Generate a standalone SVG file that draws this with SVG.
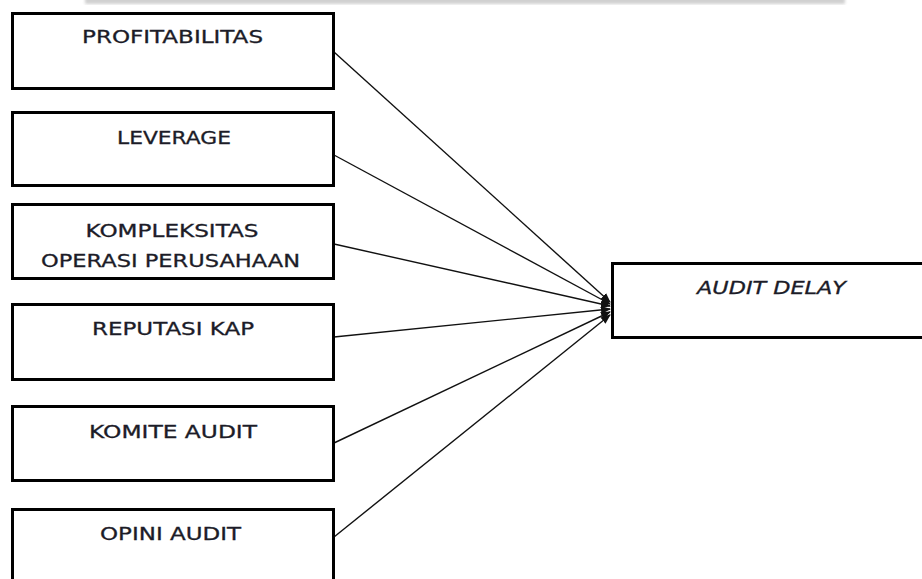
<svg xmlns="http://www.w3.org/2000/svg" width="922" height="579" viewBox="0 0 922 579">
<style>
.box{fill:#fff;stroke:#000;stroke-width:3}
.lbl{font-family:"DejaVu Sans","Liberation Sans",sans-serif;font-size:17px;fill:#1c1c28;stroke:#1c1c28;stroke-width:0.3;text-anchor:middle}
.it{font-style:italic}
.conn{stroke:#111;stroke-width:1.4;fill:none;marker-end:url(#ah)}
</style>
<defs>
<marker id="ah" markerUnits="userSpaceOnUse" markerWidth="10" markerHeight="8" refX="9" refY="4" orient="auto">
<path d="M0,0 L10,4 L0,8 Z" fill="#111"/>
</marker>
<filter id="bl"><feGaussianBlur stdDeviation="1.5"/></filter>
</defs>
<rect x="85" y="-3" width="760" height="7" fill="#d0d0d0" filter="url(#bl)"/>
<g id="connectors">
<line class="conn" x1="334" y1="52" x2="610" y2="302"/>
<line class="conn" x1="334" y1="155" x2="610" y2="304"/>
<line class="conn" x1="334" y1="244" x2="610" y2="306"/>
<line class="conn" x1="334" y1="337" x2="610" y2="309"/>
<line class="conn" x1="334" y1="443" x2="610" y2="312"/>
<line class="conn" x1="334" y1="537" x2="610" y2="315"/>
</g>
<g id="profitabilitas">
<rect class="box" x="12.5" y="13.5" width="321" height="75"/>
<text class="lbl" x="172.5" y="43" textLength="181" lengthAdjust="spacingAndGlyphs">PROFITABILITAS</text>
</g>
<g id="leverage">
<rect class="box" x="12.5" y="112.5" width="321" height="73"/>
<text class="lbl" x="174" y="144" textLength="114" lengthAdjust="spacingAndGlyphs">LEVERAGE</text>
</g>
<g id="kompleksitas">
<rect class="box" x="12.5" y="204.5" width="321" height="74"/>
<text class="lbl" x="172" y="237" textLength="173" lengthAdjust="spacingAndGlyphs">KOMPLEKSITAS</text>
<text class="lbl" x="170.5" y="267" textLength="259" lengthAdjust="spacingAndGlyphs">OPERASI PERUSAHAAN</text>
</g>
<g id="reputasi">
<rect class="box" x="12.5" y="304.5" width="321" height="75"/>
<text class="lbl" x="173" y="335" textLength="162" lengthAdjust="spacingAndGlyphs">REPUTASI KAP</text>
</g>
<g id="komite">
<rect class="box" x="12.5" y="406.5" width="321" height="74"/>
<text class="lbl" x="173" y="438" textLength="168" lengthAdjust="spacingAndGlyphs">KOMITE AUDIT</text>
</g>
<g id="opini">
<rect class="box" x="12.5" y="509.5" width="321" height="80"/>
<text class="lbl" x="170.5" y="540" textLength="141" lengthAdjust="spacingAndGlyphs">OPINI AUDIT</text>
</g>
<g id="auditdelay">
<rect class="box" x="612.5" y="263.5" width="320" height="74"/>
<text class="lbl it" x="771.5" y="294" textLength="149" lengthAdjust="spacingAndGlyphs">AUDIT DELAY</text>
</g>
</svg>
